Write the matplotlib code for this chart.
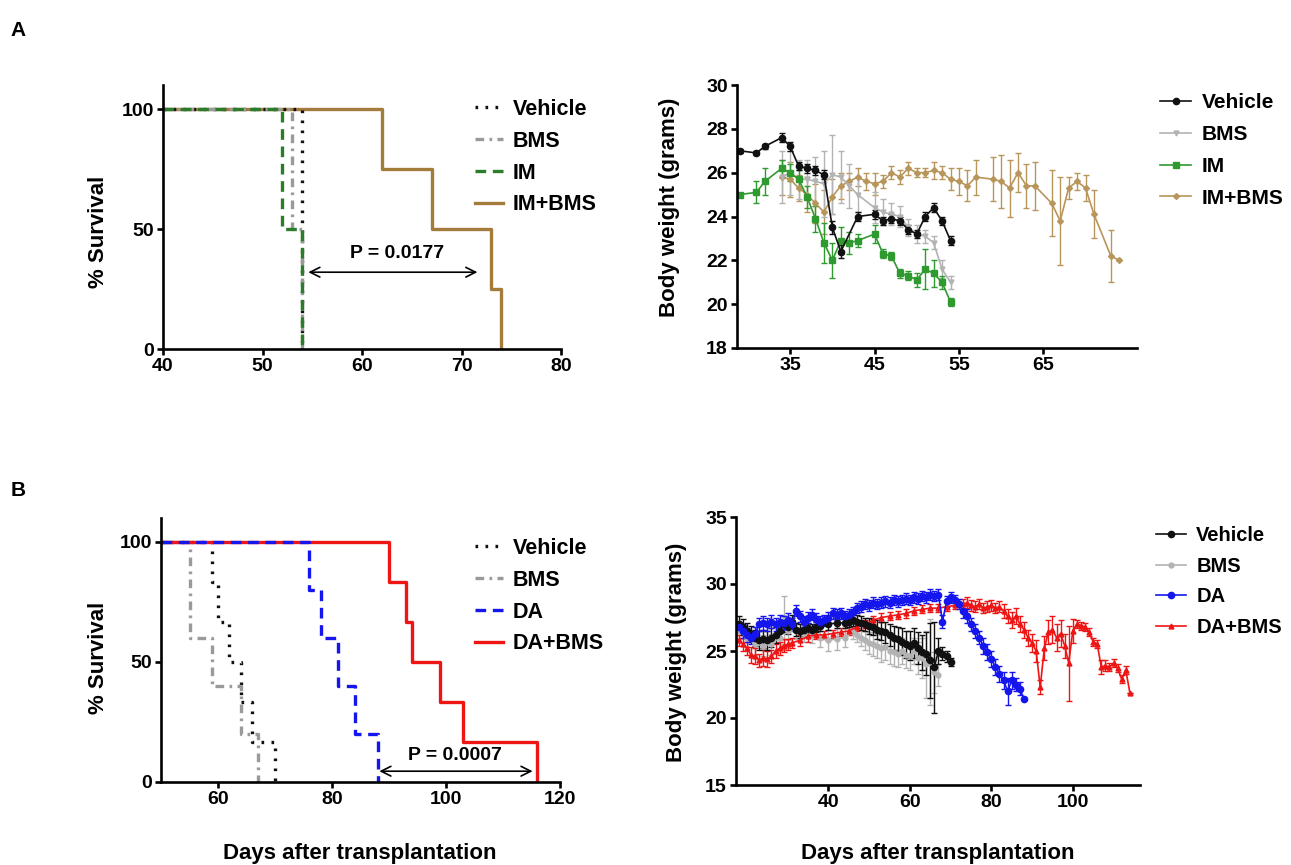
import matplotlib
matplotlib.use('Agg')
import matplotlib.pyplot as plt
from matplotlib.lines import Line2D

plt.rcParams['font.family'] = ['Liberation Sans', 'DejaVu Sans']
plt.rcParams['font.weight'] = 'bold'

# ---------------- DATA ----------------
# Panel A survival (days, % survival), step curves
surv_a_labels = ['Vehicle', 'BMS', 'IM', 'IM+BMS']
surv_a_veh_t = [40, 54]
surv_a_veh_s = [100, 0]
surv_a_bms_t = [40, 53, 54]
surv_a_bms_s = [100, 50, 0]
surv_a_im_t = [40, 52, 54]
surv_a_im_s = [100, 50, 0]
surv_a_combo_t = [40, 62, 67, 73, 74]
surv_a_combo_s = [100, 75, 50, 25, 0]
p_a_text = 'P = 0.0177'

# Panel A body weight
bw_a_veh_days = [29, 31, 32, 34, 35, 36, 37, 38, 39, 40, 41, 43, 45, 46, 47, 48, 49, 50, 51, 52, 53, 54]
bw_a_veh_w = [27.0, 26.9, 27.2, 27.6, 27.2, 26.3, 26.2, 26.1, 25.9, 23.5, 22.4, 24.0, 24.1, 23.8, 23.9, 23.8,
              23.4, 23.2, 24.0, 24.4, 23.8, 22.9]
bw_a_veh_err = [0.1, 0.1, 0.1, 0.2, 0.2, 0.2, 0.2, 0.2, 0.2, 0.3, 0.3, 0.2, 0.2, 0.2, 0.2, 0.2, 0.2, 0.2, 0.2,
                0.2, 0.2, 0.2]

bw_a_bms_days = [34, 35, 36, 37, 38, 39, 40, 41, 42, 43, 45, 46, 47, 48, 49, 50, 51, 52, 53, 54]
bw_a_bms_w = [25.8, 26.0, 25.7, 25.7, 25.6, 25.5, 25.9, 25.8, 25.4, 25.0, 24.4, 24.2, 24.1, 24.0, 23.5, 23.2,
              23.1, 22.8, 21.6, 21.0]
bw_a_bms_err = [1.2, 1.0, 0.9, 0.9, 1.1, 1.5, 1.8, 1.2, 1.0, 0.8, 0.7, 0.6, 0.5, 0.5, 0.4, 0.4, 0.3, 0.3, 0.4, 0.3]

bw_a_im_days = [29, 31, 32, 34, 35, 36, 37, 38, 39, 40, 41, 42, 43, 45, 46, 47, 48, 49, 50, 51, 52, 53, 54]
bw_a_im_w = [25.0, 25.1, 25.6, 26.2, 26.0, 25.7, 24.9, 23.9, 22.8, 22.0, 22.9, 22.8, 22.9, 23.2, 22.3, 22.2,
             21.4, 21.3, 21.1, 21.6, 21.4, 21.0, 20.1]
bw_a_im_err = [0.0, 0.5, 0.6, 0.4, 0.4, 0.4, 0.5, 0.6, 0.9, 0.8, 0.6, 0.5, 0.3, 0.4, 0.2, 0.2, 0.2, 0.2, 0.3,
               0.9, 0.6, 0.3, 0.2]

bw_a_combo_days = [34, 35, 36, 37, 38, 39, 40, 41, 42, 43, 44, 45, 46, 47, 48, 49, 50, 51, 52, 53,
                   54, 55, 56, 57, 59, 60, 61, 62, 63, 64, 66, 67, 68, 69, 70, 71, 73, 74]
bw_a_combo_w = [25.8, 25.7, 25.3, 25.0, 24.6, 24.2, 24.9, 25.4, 25.6, 25.8, 25.6, 25.5, 25.6, 26.0, 25.8, 26.2,
                26.0, 26.0, 26.1, 26.0, 25.7, 25.6, 25.4, 25.8, 25.7, 25.6, 25.3, 26.0, 25.4, 25.4, 24.6, 23.8,
                25.3, 25.6, 25.3, 24.1, 22.2, 22.0]
bw_a_combo_err = [0.8, 0.8, 0.6, 0.8, 0.9, 1.0, 0.8, 0.6, 0.4, 0.4, 0.4, 0.5, 0.3, 0.3, 0.3, 0.3, 0.2, 0.2, 0.4,
                  0.3, 0.5, 0.6, 0.7, 0.8, 1.0, 1.2, 1.3, 0.9, 1.0, 1.1, 1.5, 2.0, 0.5, 0.4, 0.6, 1.1, 1.2, 0.0]

# Panel B survival
surv_b_labels = ['Vehicle', 'BMS', 'DA', 'DA+BMS']
surv_b_veh_t = [50, 59, 60, 62, 64, 66, 70]
surv_b_veh_s = [100, 83.3, 66.7, 50, 33.3, 16.7, 0]
surv_b_bms_t = [50, 55, 59, 64, 67]
surv_b_bms_s = [100, 60, 40, 20, 0]
surv_b_da_t = [50, 76, 78, 81, 84, 88]
surv_b_da_s = [100, 80, 60, 40, 20, 0]
surv_b_combo_t = [50, 90, 93, 94, 99, 103, 116]
surv_b_combo_s = [100, 83.3, 66.7, 50, 33.3, 16.7, 0]
p_b_text = 'P = 0.0007'

# Panel B body weight
bw_b_veh_days = [18, 19, 20, 21, 22, 23, 24, 25, 26, 27, 28, 29, 30, 31, 32, 33, 34, 35, 36, 37,
                 38, 40, 42, 44, 45, 46, 47, 48, 49, 50, 51, 52, 53, 54, 55, 56, 57, 58, 59, 60,
                 61, 62, 63, 64, 65, 66, 67, 68, 69, 70]
bw_b_veh_w = [27.0, 26.8, 26.5, 26.3, 26.0, 25.8, 25.9, 25.8, 26.0, 26.2,
              26.5, 27.0, 26.8, 27.2, 26.6, 26.5, 26.6, 26.7, 26.6, 26.8,
              26.9, 27.0, 27.1, 27.1, 27.2, 27.3, 27.2, 27.1, 27.0, 26.9,
              26.8, 26.6, 26.5, 26.4, 26.2, 26.0, 25.9, 25.7, 25.5, 25.4,
              25.6, 25.2, 24.9, 24.8, 24.3, 23.8, 25.0, 24.8, 24.6, 24.2]
bw_b_veh_err = [0.6, 0.6, 0.6, 0.6, 0.6, 0.7, 0.7, 0.7, 0.7, 0.6,
                0.6, 0.6, 0.5, 0.5, 0.5, 0.5, 0.5, 0.4, 0.4, 0.4,
                0.4, 0.4, 0.4, 0.4, 0.4, 0.4, 0.5, 0.5, 0.5, 0.6,
                0.6, 0.7, 0.7, 0.8, 0.8, 0.9, 0.9, 1.0, 1.0, 1.1,
                1.1, 1.2, 1.3, 1.6, 2.8, 3.4, 1.0, 0.5, 0.4, 0.3]

bw_b_bms_days = [18, 20, 22, 24, 26, 28, 29, 30, 32, 34, 36, 38, 40, 42, 44, 46, 47, 48, 49, 50,
                 51, 52, 53, 54, 55, 56, 57, 58, 59, 60, 61, 62, 63, 64, 65, 66, 67]
bw_b_bms_w = [26.5, 26.0, 25.5, 25.4, 25.5, 26.0, 27.3, 26.5, 26.5, 26.3,
              26.2, 26.0, 25.8, 25.9, 26.0, 26.4, 26.2, 26.0, 25.8, 25.6,
              25.5, 25.4, 25.2, 25.3, 25.0, 24.9, 24.8, 25.0, 24.7, 24.6,
              25.0, 24.5, 24.5, 24.0, 24.2, 23.4, 23.2]
bw_b_bms_err = [0.6, 0.7, 0.8, 0.8, 0.8, 0.9, 1.8, 0.7, 0.6, 0.6,
                0.6, 0.7, 0.8, 0.8, 0.7, 0.5, 0.5, 0.6, 0.7, 0.8,
                0.9, 0.9, 1.0, 1.0, 1.0, 1.0, 1.0, 1.0, 1.0, 1.0,
                1.0, 1.2, 1.5, 2.5, 3.2, 1.5, 0.8]

bw_b_da_days = [18, 19, 20, 21, 22, 23, 24, 25, 26, 27, 28, 29, 30, 31, 32, 33, 34, 35, 36, 37,
                38, 39, 40, 41, 42, 43, 44, 45, 46, 47, 48, 49, 50, 51, 52, 53, 54, 55, 56, 57,
                58, 59, 60, 61, 62, 63, 64, 65, 66, 67, 68, 69, 70, 71, 72, 73, 74, 75, 76, 77,
                78, 79, 80, 81, 82, 83, 84, 85, 86, 87, 88]
bw_b_da_w = [26.8, 26.5, 26.2, 26.0, 26.3, 27.0, 27.1, 27.0, 27.2, 27.0,
             27.2, 27.1, 27.3, 27.0, 28.0, 27.6, 27.2, 27.5, 27.7, 27.4,
             27.2, 27.3, 27.5, 27.8, 27.7, 27.8, 27.6, 27.7, 27.9, 28.2,
             28.3, 28.5, 28.4, 28.6, 28.5, 28.6, 28.7, 28.6, 28.8, 28.7,
             28.8, 28.9, 28.8, 29.0, 28.9, 29.1, 29.0, 29.2, 29.1, 29.2,
             27.2, 28.7, 29.0, 28.8, 28.5, 28.0, 27.6, 27.0, 26.5, 26.0,
             25.4, 24.9, 24.4, 23.8, 23.3, 22.8, 22.0, 22.8, 22.5, 22.2, 21.4]
bw_b_da_err = [0.4, 0.5, 0.5, 0.5, 0.5, 0.5, 0.5, 0.5, 0.5, 0.5,
               0.5, 0.5, 0.5, 0.5, 0.4, 0.4, 0.4, 0.4, 0.4, 0.4,
               0.4, 0.4, 0.4, 0.4, 0.4, 0.4, 0.4, 0.4, 0.4, 0.4,
               0.4, 0.4, 0.4, 0.4, 0.4, 0.4, 0.4, 0.4, 0.4, 0.4,
               0.4, 0.4, 0.4, 0.4, 0.4, 0.4, 0.4, 0.4, 0.4, 0.4,
               0.5, 0.4, 0.4, 0.4, 0.4, 0.5, 0.5, 0.5, 0.5, 0.5,
               0.6, 0.6, 0.6, 0.6, 0.6, 0.6, 1.0, 0.6, 0.5, 0.5, 0.0]

bw_b_combo_days = [18, 19, 20, 21, 22, 23, 24, 25, 26, 27, 28, 29, 30, 31, 33, 35, 37, 39, 41, 43,
                   45, 47, 49, 51, 53, 55, 57, 59, 61, 63, 65, 67, 69, 71, 73, 74, 75, 76, 77, 78,
                   79, 80, 81, 82, 83, 84, 85, 86, 87, 88, 89, 90, 91, 92, 93, 94, 95, 96, 97, 98,
                   99, 100, 101, 102, 103, 104, 105, 106, 107, 108, 109, 110, 111, 112, 113, 114]
bw_b_combo_w = [25.8, 25.5, 25.2, 24.7, 24.6, 24.3, 24.5, 24.4, 24.6, 25.0,
                25.2, 25.4, 25.5, 25.6, 25.8, 26.1, 26.2, 26.2, 26.3, 26.4,
                26.5, 26.8, 27.0, 27.3, 27.5, 27.6, 27.7, 27.8, 28.0, 28.1,
                28.2, 28.2, 28.3, 28.4, 28.5, 28.6, 28.4, 28.3, 28.5, 28.2,
                28.3, 28.4, 28.2, 28.3, 28.0, 27.6, 27.3, 27.6, 27.0, 26.6,
                26.0, 25.6, 25.0, 22.3, 25.2, 26.4, 26.6, 26.0, 26.3, 25.4,
                24.1, 26.5, 27.0, 26.9, 26.8, 26.4, 25.7, 25.5, 23.8, 23.9,
                23.8, 24.1, 23.7, 22.9, 23.6, 21.9]
bw_b_combo_err = [0.4, 0.5, 0.5, 0.6, 0.6, 0.5, 0.6, 0.6, 0.5, 0.5,
                  0.5, 0.5, 0.4, 0.4, 0.4, 0.4, 0.3, 0.3, 0.3, 0.3,
                  0.3, 0.3, 0.3, 0.3, 0.3, 0.3, 0.3, 0.3, 0.3, 0.3,
                  0.3, 0.3, 0.3, 0.3, 0.4, 0.4, 0.4, 0.4, 0.4, 0.4,
                  0.4, 0.4, 0.4, 0.4, 0.5, 0.5, 0.6, 0.6, 0.6, 0.6,
                  0.6, 0.7, 0.8, 0.5, 0.9, 0.9, 1.0, 1.0, 1.0, 0.9,
                  2.8, 0.9, 0.3, 0.3, 0.3, 0.3, 0.3, 0.3, 0.5, 0.4,
                  0.3, 0.3, 0.3, 0.3, 0.3, 0.0]

# ---------------- STYLE ----------------
C_BLACK = '#111111'
C_GRAY_S = '#9a9a9a'
C_GREEN_S = '#2b7d2b'
C_TAN_S = '#a37c3c'
C_GREEN = '#2f9a2f'
C_GRAY = '#b3b3b3'
C_TAN = '#b8955a'
C_BLUE = '#1515ee'
C_RED = '#ee1515'

W, H = 1291, 865
fig = plt.figure(figsize=(W / 100, H / 100), dpi=100)


def axpx(l, r, t, b):
    return fig.add_axes([l / W, 1 - b / H, (r - l) / W, (b - t) / H])


def style(ax):
    for s in ['top', 'right']:
        ax.spines[s].set_visible(False)
    for s in ['left', 'bottom']:
        ax.spines[s].set_linewidth(1.9)
    ax.tick_params(direction='out', length=4.5, width=1.9, labelsize=14, pad=2)


def legend_at(ax, handles, labels, x, y, fs, hl, htp, ls=0.5):
    ax.legend(handles, labels, loc='upper left',
              bbox_to_anchor=(x / W, 1 - y / H), bbox_transform=fig.transFigure,
              frameon=False, fontsize=fs, handlelength=hl, handletextpad=htp,
              labelspacing=ls, borderpad=0, borderaxespad=0)


dot = (0, (0.8, 2.2))
dashdot = (0, (2.6, 1.6, 0.8, 1.6))
dashed = (0, (3.2, 2.0))
arrow_style = '<->,head_length=0.7,head_width=0.35'

# ---- A left: survival ----
ax1 = axpx(163, 561, 85, 349)
ax1.step(surv_a_combo_t, surv_a_combo_s, where='post', color=C_TAN_S, lw=2.4, label=surv_a_labels[3])
ax1.step(surv_a_veh_t, surv_a_veh_s, where='post', color=C_BLACK, lw=2.4, ls=dot, label=surv_a_labels[0])
ax1.step(surv_a_bms_t, surv_a_bms_s, where='post', color=C_GRAY_S, lw=2.4, ls=dashdot, label=surv_a_labels[1])
ax1.step(surv_a_im_t, surv_a_im_s, where='post', color=C_GREEN_S, lw=2.4, ls=dashed, label=surv_a_labels[2])
ax1.set_xlim(40, 80)
ax1.set_ylim(0, 110)
ax1.set_xticks([40, 50, 60, 70, 80])
ax1.set_yticks([0, 50, 100])
style(ax1)
ax1.annotate('', xy=(54.6, 32), xytext=(71.6, 32),
             arrowprops=dict(arrowstyle=arrow_style, lw=1.2, color='black', shrinkA=0, shrinkB=0))
ax1.text(63.5, 40, p_a_text, ha='center', va='center', fontsize=14)
h, l = ax1.get_legend_handles_labels()
order = [1, 2, 3, 0]
legend_at(ax1, [h[i] for i in order], [l[i] for i in order], 475, 99, 15.5, 1.3, 0.45)

# ---- A right: body weight ----
ax2 = axpx(737, 1137, 85, 348)
ekw = dict(capsize=2.5, elinewidth=1.0, capthick=1.0, lw=1.2)
ax2.errorbar(bw_a_combo_days, bw_a_combo_w, yerr=bw_a_combo_err, color=C_TAN, marker='D', ms=3, **ekw)
ax2.errorbar(bw_a_bms_days, bw_a_bms_w, yerr=bw_a_bms_err, color=C_GRAY, marker='v', ms=3.5, **ekw)
ax2.errorbar(bw_a_im_days, bw_a_im_w, yerr=bw_a_im_err, color=C_GREEN, marker='s', ms=4.5, **ekw)
ax2.errorbar(bw_a_veh_days, bw_a_veh_w, yerr=bw_a_veh_err, color=C_BLACK, marker='o', ms=4.5, **ekw)
ax2.set_xlim(28.7, 76.1)
ax2.set_ylim(18, 30)
ax2.set_xticks([35, 45, 55, 65])
ax2.set_yticks([18, 20, 22, 24, 26, 28, 30])
style(ax2)
hA = [Line2D([], [], color=C_BLACK, marker='o', ms=4.5, lw=1.2),
      Line2D([], [], color=C_GRAY, marker='v', ms=3.5, lw=1.2),
      Line2D([], [], color=C_GREEN, marker='s', ms=4.5, lw=1.2),
      Line2D([], [], color=C_TAN, marker='D', ms=3, lw=1.2)]
legend_at(ax2, hA, surv_a_labels, 1160, 93, 15, 1.5, 0.5, ls=0.62)

# ---- B left: survival ----
ax3 = axpx(161, 560, 518, 782)
ax3.step(surv_b_veh_t, surv_b_veh_s, where='post', color=C_BLACK, lw=2.4, ls=dot, label=surv_b_labels[0])
ax3.step(surv_b_bms_t, surv_b_bms_s, where='post', color=C_GRAY_S, lw=2.4, ls=dashdot, label=surv_b_labels[1])
ax3.step(surv_b_combo_t, surv_b_combo_s, where='post', color=C_RED, lw=2.4, label=surv_b_labels[3])
ax3.step(surv_b_da_t, surv_b_da_s, where='post', color=C_BLUE, lw=2.4, ls=dashed, label=surv_b_labels[2])
ax3.set_xlim(50, 120)
ax3.set_ylim(0, 110)
ax3.set_xticks([60, 80, 100, 120])
ax3.set_yticks([0, 50, 100])
style(ax3)
ax3.annotate('', xy=(88.3, 4.5), xytext=(115.2, 4.5),
             arrowprops=dict(arrowstyle=arrow_style, lw=1.2, color='black', shrinkA=0, shrinkB=0))
ax3.text(101.5, 11, p_b_text, ha='center', va='center', fontsize=14)
h, l = ax3.get_legend_handles_labels()
order = [0, 1, 3, 2]
legend_at(ax3, [h[i] for i in order], [l[i] for i in order], 475, 538, 15.5, 1.3, 0.45)

# ---- B right: body weight ----
ax4 = axpx(736, 1140, 517, 785)
ax4.errorbar(bw_b_bms_days, bw_b_bms_w, yerr=bw_b_bms_err, color=C_GRAY, marker='o', ms=3.5, **ekw)
ax4.errorbar(bw_b_combo_days, bw_b_combo_w, yerr=bw_b_combo_err, color=C_RED, marker='^', ms=3.5, **ekw)
ax4.errorbar(bw_b_veh_days, bw_b_veh_w, yerr=bw_b_veh_err, color=C_BLACK, marker='o', ms=4.5, **ekw)
ax4.errorbar(bw_b_da_days, bw_b_da_w, yerr=bw_b_da_err, color=C_BLUE, marker='o', ms=4.5, **ekw)
ax4.set_xlim(17.3, 116.5)
ax4.set_ylim(15, 35)
ax4.set_xticks([40, 60, 80, 100])
ax4.set_yticks([15, 20, 25, 30, 35])
style(ax4)
hB = [Line2D([], [], color=C_BLACK, marker='o', ms=4.5, lw=1.2),
      Line2D([], [], color=C_GRAY, marker='o', ms=3.5, lw=1.2),
      Line2D([], [], color=C_BLUE, marker='o', ms=4.5, lw=1.2),
      Line2D([], [], color=C_RED, marker='^', ms=3.5, lw=1.2)]
legend_at(ax4, hB, surv_b_labels, 1156, 526, 14.5, 1.5, 0.5, ls=0.58)

# ---- labels ----
fig.text(98 / W, 1 - 232 / H, '% Survival', rotation=90, ha='center', va='center', fontsize=16)
fig.text(98 / W, 1 - 658 / H, '% Survival', rotation=90, ha='center', va='center', fontsize=16)
fig.text(669 / W, 1 - 207 / H, 'Body weight (grams)', rotation=90, ha='center', va='center', fontsize=16)
fig.text(676 / W, 1 - 652 / H, 'Body weight (grams)', rotation=90, ha='center', va='center', fontsize=16)
fig.text(360 / W, 1 - 853 / H, 'Days after transplantation', ha='center', va='center', fontsize=16)
fig.text(938 / W, 1 - 853 / H, 'Days after transplantation', ha='center', va='center', fontsize=16)
fig.text(18 / W, 1 - 30 / H, 'A', ha='center', va='center', fontsize=15)
fig.text(18 / W, 1 - 491 / H, 'B', ha='center', va='center', fontsize=15)

fig.savefig('out.png', dpi=100)
